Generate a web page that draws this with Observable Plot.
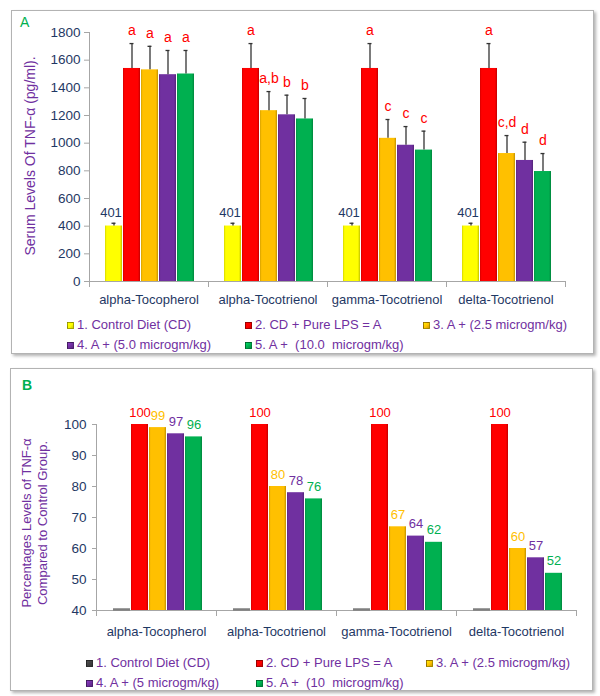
<!DOCTYPE html>
<html>
<head>
<meta charset="utf-8">
<script src="https://cdn.jsdelivr.net/npm/d3@7"></script>
<script src="https://cdn.jsdelivr.net/npm/@observablehq/plot@0.6"></script>
<style>
  html,body{margin:0;padding:0;background:#fff}
  body{position:relative;width:600px;height:696px;overflow:hidden;font-family:"Liberation Sans",Arial,sans-serif}
  .panel{position:absolute;border:1px solid #b3b3b3;box-shadow:2px 2px 3px rgba(0,0,0,0.3);background:#fff}
  .chart{position:absolute;left:0}
  .tag{position:absolute;font-size:14px;color:#00b050;line-height:16px}
  .ytitle{position:absolute;font-size:13px;color:#7030a0;white-space:nowrap;transform:translate(-50%,-50%) rotate(-90deg);line-height:16px;text-align:center}
  .leg{position:absolute;font-size:13px;color:#7030a0;white-space:pre;line-height:16px;transform:translateY(-50%)}
  .sw{display:inline-block;box-sizing:border-box;width:7px;height:7px;margin-right:3px;vertical-align:0px;border:1px solid rgba(0,0,0,0.35)}
</style>
</head>
<body>
<svg width="0" height="0" style="position:absolute"><defs id="grads"></defs></svg>
<div class="panel" style="left:11px;top:10px;width:581px;height:342px"></div>
<div class="panel" style="left:10px;top:368px;width:581px;height:321px"></div>
<div id="chartA" class="chart" style="top:0"></div>
<div id="chartB" class="chart" style="top:380px"></div>
<div class="tag" style="left:20px;top:14px">A</div>
<div class="tag" style="left:22px;top:377px;font-weight:bold">B</div>
<div class="ytitle" style="left:30px;top:156px;font-size:14px">Serum Levels Of TNF-α (pg/ml).</div>
<div class="ytitle" style="left:35px;top:523px">Percentages Levels of TNF-α<br>Compared to Control Group.</div>
<div id="legA"></div>
<div id="legB"></div>
<script>
// ---------- data ----------
const categories = ["alpha-Tocopherol", "alpha-Tocotrienol", "gamma-Tocotrienol", "delta-Tocotrienol"];
const seriesNamesA = ["1. Control Diet (CD)", "2. CD + Pure LPS = A", "3. A + (2.5 microgm/kg)", "4. A + (5.0 microgm/kg)", "5. A +  (10.0  microgm/kg)"];
const seriesNamesB = ["1. Control Diet (CD)", "2. CD + Pure LPS = A", "3. A + (2.5 microgm/kg)", "4. A + (5 microgm/kg)", "5. A +  (10  microgm/kg)"];
const barColors = ["#ffff00", "#ff0000", "#ffc000", "#7030a0", "#00b050"];
const controlColorB = "#404040";

// Panel A: serum TNF-alpha (pg/ml)
const serumControl = [401, 401, 401, 401];
const serumLPS = [1540, 1540, 1540, 1540];
const serum2_5 = [1530, 1235, 1035, 925];
const serum5_0 = [1495, 1205, 985, 875];
const serum10_0 = [1500, 1175, 950, 795];
const errControl = [20, 20, 20, 20];
const errLPS = [180, 180, 180, 180];
const err2_5 = [170, 138, 136, 130];
const err5_0 = [175, 142, 135, 132];
const err10_0 = [170, 148, 137, 130];
const lettersLPS = ["a", "a", "a", "a"];
const letters2_5 = ["a", "a,b", "c", "c,d"];
const letters5_0 = ["a", "b", "c", "d"];
const letters10_0 = ["a", "b", "c", "d"];
const yTicksA = [0, 200, 400, 600, 800, 1000, 1200, 1400, 1600, 1800];

// Panel B: percentages
const pctControl = [0, 0, 0, 0];
const pctLPS = [100, 100, 100, 100];
const pct2_5 = [99, 80, 67, 60];
const pct5_0 = [97, 78, 64, 57];
const pct10_0 = [96, 76, 62, 52];
const yTicksB = [40, 50, 60, 70, 80, 90, 100];

// ---------- gradients for the 3D-ish bars ----------
const defs = d3.select("#grads");
const gradColors = barColors.concat([controlColorB]);
gradColors.forEach((c, j) => {
  const g = defs.append("linearGradient").attr("id", "g" + j).attr("x1", 0).attr("x2", 1).attr("y1", 0).attr("y2", 0);
  const base = d3.color(c);
  [[0, base.darker(0.5)], [0.1, base], [0.88, base], [1, base.darker(0.8)]].forEach(([o, col]) =>
    g.append("stop").attr("offset", o).attr("stop-color", col.formatHex()));
});

// ---------- tables ----------
const valsA = [serumControl, serumLPS, serum2_5, serum5_0, serum10_0];
const errsA = [errControl, errLPS, err2_5, err5_0, err10_0];
const letsA = [null, lettersLPS, letters2_5, letters5_0, letters10_0];
const rowsA = categories.flatMap((cat, i) => valsA.map((arr, k) => ({cat, k, v: arr[i], e: errsA[k][i], lab: letsA[k] ? letsA[k][i] : null})));
const valsB = [pctControl, pctLPS, pct2_5, pct5_0, pct10_0];
const rowsB = categories.flatMap((cat, i) => valsB.map((arr, k) => ({cat, k, v: arr[i]})));

const axisGray = "#a6a6a6";
const navy = "#1f3864";
const font = "Liberation Sans, Arial, sans-serif";
const xBand = {domain: [0, 1, 2, 3, 4], paddingInner: 0.04, paddingOuter: 0.75, align: 0.55, axis: null};
const plain = d => String(d);

// ---------- Panel A ----------
const hA = 312, mtA = 32, mbA = 31;
const plotA = Plot.plot({
  width: 600, height: hA,
  marginTop: mtA, marginBottom: mbA, marginLeft: 87, marginRight: 34,
  style: {fontFamily: font, fontSize: "13px", background: "transparent"},
  fx: {domain: categories, padding: 0, label: null},
  x: xBand,
  y: {domain: [0, 1800]},
  marks: [
    Plot.ruleY([0], {stroke: axisGray}),
    Plot.frame({anchor: "left", stroke: axisGray, facetAnchor: "left"}),
    Plot.frame({anchor: "left", stroke: axisGray, insetTop: hA - mtA - mbA, insetBottom: -5}),
    Plot.frame({anchor: "right", stroke: axisGray, insetTop: hA - mtA - mbA, insetBottom: -5, facetAnchor: "right"}),
    Plot.axisY({ticks: yTicksA, tickFormat: plain, tickSize: 5, tickPadding: 4, stroke: axisGray, fill: navy, fontSize: 13.5, label: null}),
    Plot.axisFx({anchor: "bottom", tickSize: 0, tickPadding: 13, fill: navy, fontSize: 13, label: null}),
    ...barColors.map((c, j) => Plot.barY(rowsA.filter(d => d.k === j), {fx: "cat", x: "k", y: "v", fill: `url(#g${j})`})),
    Plot.ruleX(rowsA, {fx: "cat", x: "k", y1: "v", y2: d => d.v + d.e, stroke: "#333", strokeWidth: 1.3}),
    Plot.tickY(rowsA, {fx: "cat", x: "k", y: d => d.v + d.e, stroke: "#333", strokeWidth: 1.3, insetLeft: 6.5, insetRight: 6.5}),
    Plot.text(rowsA.filter(d => d.k === 0), {fx: "cat", x: "k", y: d => d.v + d.e, text: d => String(d.v), dy: -10, dx: -3, fill: navy, fontSize: 13}),
    Plot.text(rowsA.filter(d => d.lab), {fx: "cat", x: "k", y: d => d.v + d.e, text: "lab", dy: -13, fill: "#ff0000", fontSize: 14})
  ]
});
document.getElementById("chartA").appendChild(plotA);

// ---------- Panel B ----------
const hB = 266, mtB = 44, mbB = 36;
const plotB = Plot.plot({
  width: 600, height: hB,
  marginTop: mtB, marginBottom: mbB, marginLeft: 96, marginRight: 24,
  style: {fontFamily: font, fontSize: "13px", background: "transparent"},
  fx: {domain: categories, padding: 0, label: null},
  x: xBand,
  y: {domain: [40, 100], clamp: true},
  marks: [
    Plot.ruleY([40], {stroke: axisGray}),
    Plot.frame({anchor: "left", stroke: axisGray, facetAnchor: "left"}),
    Plot.frame({anchor: "left", stroke: axisGray, insetTop: hB - mtB - mbB, insetBottom: -5}),
    Plot.frame({anchor: "right", stroke: axisGray, insetTop: hB - mtB - mbB, insetBottom: -5, facetAnchor: "right"}),
    Plot.axisY({ticks: yTicksB, tickFormat: plain, tickSize: 4, tickPadding: 6, stroke: axisGray, fill: navy, fontSize: 13.5, label: null}),
    Plot.axisFx({anchor: "bottom", tickSize: 0, tickPadding: 16, fill: navy, fontSize: 13, label: null}),
    Plot.tickY(rowsB.filter(d => d.k === 0), {fx: "cat", x: "k", y: "v", stroke: "#7f7f7f", strokeWidth: 2.5, dy: -1}),
    ...barColors.map((c, j) => j === 0 ? null : Plot.barY(rowsB.filter(d => d.k === j), {fx: "cat", x: "k", y: "v", fill: `url(#g${j})`})).filter(Boolean),
    Plot.text(rowsB.filter(d => d.k > 0), {fx: "cat", x: "k", y: "v", text: d => String(d.v), dy: -12, fill: d => barColors[d.k], fontSize: 13})
  ]
});
document.getElementById("chartB").appendChild(plotB);

// ---------- legends ----------
function legend(id, names, colors, pos) {
  const el = d3.select("#" + id);
  names.forEach((n, i) => {
    const c = d3.color(colors[i]);
    const div = el.append("div").attr("class", "leg").style("left", pos[i][0] + "px").style("top", pos[i][1] + "px");
    div.append("span").attr("class", "sw")
      .style("background", `linear-gradient(135deg, ${c.brighter(0.6).formatHex()}, ${c.formatHex()} 55%, ${c.darker(0.6).formatHex()})`);
    div.append("span").text(n);
  });
}
legend("legA", seriesNamesA, barColors, [[67, 325], [245, 325], [423, 325], [67, 345], [245, 345]]);
legend("legB", seriesNamesB, [controlColorB].concat(barColors.slice(1)), [[86, 663], [256, 663], [426, 663], [86, 683], [256, 683]]);
</script>
</body>
</html>
